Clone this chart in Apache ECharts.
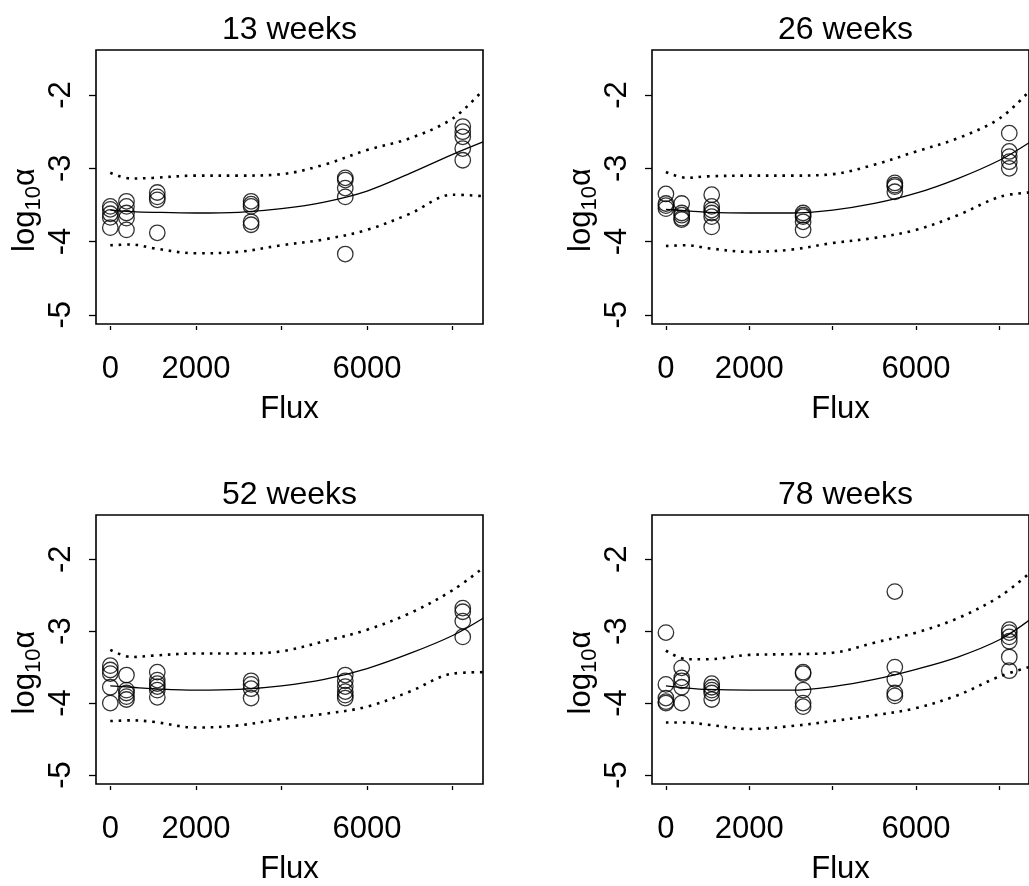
<!DOCTYPE html>
<html>
<head>
<meta charset="utf-8">
<script src="https://cdn.jsdelivr.net/npm/echarts@6/dist/echarts.min.js"></script>
<style>
  html, body { margin: 0; padding: 0; background: #fff; }
  #chart { width: 1029px; height: 886px; }
</style>
</head>
<body>
<div id="chart"></div>
<script>
// Flux levels at which log10(alpha) was measured
const FLUX_LEVELS = [0, 378, 1098, 3290, 5490, 8235];

// Observations per flux level (one inner list per level)
const weeks13 = [
  [-3.52, -3.56, -3.62, -3.67, -3.81],
  [-3.45, -3.52, -3.61, -3.68, -3.84],
  [-3.33, -3.39, -3.43, -3.88],
  [-3.45, -3.49, -3.52, -3.73, -3.77],
  [-3.13, -3.16, -3.27, -3.39, -4.17],
  [-2.43, -2.50, -2.57, -2.73, -2.89]
];
const weeks26 = [
  [-3.35, -3.48, -3.51, -3.55],
  [-3.48, -3.61, -3.64, -3.68, -3.70],
  [-3.36, -3.52, -3.57, -3.61, -3.66, -3.80],
  [-3.61, -3.64, -3.66, -3.73, -3.84],
  [-3.20, -3.23, -3.25, -3.32],
  [-2.52, -2.77, -2.84, -2.91, -3.00]
];
const weeks52 = [
  [-3.48, -3.54, -3.59, -3.78, -4.00],
  [-3.61, -3.82, -3.86, -3.91, -3.95],
  [-3.57, -3.68, -3.73, -3.77, -3.82, -3.92],
  [-3.69, -3.74, -3.80, -3.93],
  [-3.61, -3.69, -3.77, -3.84, -3.89, -3.93],
  [-2.68, -2.73, -2.86, -3.08]
];
const weeks78 = [
  [-3.02, -3.74, -3.93, -3.98, -4.00],
  [-3.51, -3.65, -3.69, -3.78, -4.00],
  [-3.73, -3.78, -3.82, -3.86, -3.95],
  [-3.57, -3.59, -3.82, -4.00, -4.05],
  [-2.45, -3.50, -3.67, -3.86, -3.90],
  [-2.98, -3.02, -3.08, -3.14, -3.36, -3.55]
];

// Fitted curve and pointwise band, sampled along flux
const CURVE_FLUX = [0, 500, 1000, 2000, 3000, 4000, 5000, 6000, 7000, 8000, 8710];

const fit13   = [-3.57, -3.59, -3.60, -3.61, -3.60, -3.55, -3.46, -3.31, -3.07, -2.81, -2.64];
const upper13 = [-3.06, -3.14, -3.13, -3.10, -3.10, -3.08, -2.95, -2.75, -2.59, -2.32, -1.93];
const lower13 = [-4.05, -4.04, -4.09, -4.16, -4.14, -4.05, -3.97, -3.84, -3.62, -3.36, -3.38];

const fit26   = [-3.56, -3.58, -3.60, -3.61, -3.61, -3.57, -3.48, -3.34, -3.14, -2.89, -2.65];
const upper26 = [-3.05, -3.13, -3.11, -3.10, -3.10, -3.08, -2.95, -2.77, -2.59, -2.32, -1.95];
const lower26 = [-4.06, -4.05, -4.09, -4.14, -4.11, -4.02, -3.95, -3.84, -3.64, -3.39, -3.33];

const fit52   = [-3.76, -3.78, -3.80, -3.82, -3.81, -3.76, -3.67, -3.52, -3.31, -3.06, -2.82];
const upper52 = [-3.26, -3.36, -3.34, -3.31, -3.31, -3.28, -3.14, -2.98, -2.75, -2.43, -2.12];
const lower52 = [-4.25, -4.24, -4.26, -4.34, -4.31, -4.22, -4.15, -4.05, -3.84, -3.59, -3.57];

const fit78   = [-3.76, -3.79, -3.81, -3.82, -3.82, -3.77, -3.67, -3.53, -3.36, -3.12, -2.85];
const upper78 = [-3.27, -3.39, -3.39, -3.33, -3.32, -3.30, -3.16, -3.02, -2.82, -2.52, -2.20];
const lower78 = [-4.27, -4.27, -4.30, -4.36, -4.32, -4.25, -4.17, -4.07, -3.89, -3.63, -3.50];

// Axis ticks and labels
const X_TICKS = [0, 2000, 4000, 6000, 8000];
const X_LABELS = [0, 2000, 6000];
const Y_TICKS = [-5, -4, -3, -2];

const PANEL_TITLES = ['13 weeks', '26 weeks', '52 weeks', '78 weeks'];
const X_NAME = 'Flux';

const FONT = '"Liberation Sans", Arial, Helvetica, sans-serif';

const panels = [
  { title: PANEL_TITLES[0], obs: weeks13, fit: fit13, upper: upper13, lower: lower13, left: 96,  top: 50 },
  { title: PANEL_TITLES[1], obs: weeks26, fit: fit26, upper: upper26, lower: lower26, left: 652, top: 50 },
  { title: PANEL_TITLES[2], obs: weeks52, fit: fit52, upper: upper52, lower: lower52, left: 96,  top: 515 },
  { title: PANEL_TITLES[3], obs: weeks78, fit: fit78, upper: upper78, lower: lower78, left: 652, top: 515 }
];
const PW = 387, PH = 274;

const zip = (xs, ys) => xs.map((x, i) => [x, ys[i]]);

const grid = [], xAxis = [], yAxis = [], series = [], graphic = [];

panels.forEach((p, i) => {
  grid.push({
    left: p.left, top: p.top, width: PW, height: PH,
    show: true, borderColor: '#000', borderWidth: 1.6, backgroundColor: 'transparent',
    containLabel: false
  });
  xAxis.push({
    gridIndex: i, type: 'value', min: -334, max: 8708, offset: 2,
    axisLine: { show: false, onZero: false },
    splitLine: { show: false },
    axisTick: { show: true, length: 4, customValues: X_TICKS, lineStyle: { color: '#000', width: 1.3 } },
    axisLabel: {
      customValues: X_LABELS, fontSize: 31, color: '#000', fontFamily: FONT, margin: 28,
      formatter: v => String(Math.round(v))
    },
    name: X_NAME, nameLocation: 'middle', nameGap: 68,
    nameTextStyle: { fontSize: 31, color: '#000', fontFamily: FONT }
  });
  yAxis.push({
    gridIndex: i, type: 'value', min: -5.125, max: -1.385,
    axisLine: { show: false, onZero: false },
    splitLine: { show: false },
    axisTick: { show: true, length: 7, customValues: Y_TICKS, lineStyle: { color: '#000', width: 1.3 } },
    axisLabel: {
      customValues: Y_TICKS, rotate: 90, fontSize: 31, color: '#000', fontFamily: FONT, margin: 19,
      formatter: v => String(Math.round(v))
    },
    name: '{t|log}{s|10}{t|α}',
    nameLocation: 'middle', nameRotate: 90, nameGap: 51,
    nameTextStyle: {
      color: '#000', fontFamily: FONT, padding: [0, 46, 0, 0],
      rich: {
        t: { fontSize: 31, lineHeight: 40, verticalAlign: 'middle', fontFamily: FONT, color: '#000' },
        s: { fontSize: 22, lineHeight: 16, verticalAlign: 'bottom', fontFamily: FONT, color: '#000' }
      }
    }
  });

  const pts = [];
  p.obs.forEach((vals, k) => vals.forEach(v => pts.push([FLUX_LEVELS[k], v])));
  series.push({
    type: 'scatter', xAxisIndex: i, yAxisIndex: i, data: pts,
    symbol: 'circle', symbolSize: 15.5, silent: true,
    itemStyle: { color: 'rgba(0,0,0,0)', borderColor: '#000', borderWidth: 1.3 }
  });
  series.push({
    type: 'line', xAxisIndex: i, yAxisIndex: i, data: zip(CURVE_FLUX, p.fit),
    smooth: 0.35, showSymbol: false, silent: true, clip: true,
    lineStyle: { color: '#000', width: 1.3 }
  });
  [p.upper, p.lower].forEach(band => {
    series.push({
      type: 'line', xAxisIndex: i, yAxisIndex: i, data: zip(CURVE_FLUX, band),
      smooth: 0.35, showSymbol: false, silent: true, clip: true,
      lineStyle: { color: '#000', width: 2.6, type: [2.6, 5.8], cap: 'butt' }
    });
  });

  graphic.push({
    type: 'text', x: p.left + PW / 2, y: p.top - 20,
    style: { text: p.title, fill: '#000', font: '32px ' + FONT, align: 'center', verticalAlign: 'middle' }
  });
});

const chart = echarts.init(document.getElementById('chart'), null, { renderer: 'canvas' });
chart.setOption({
  animation: false,
  backgroundColor: '#fff',
  grid, xAxis, yAxis, series, graphic
});
</script>
</body>
</html>
